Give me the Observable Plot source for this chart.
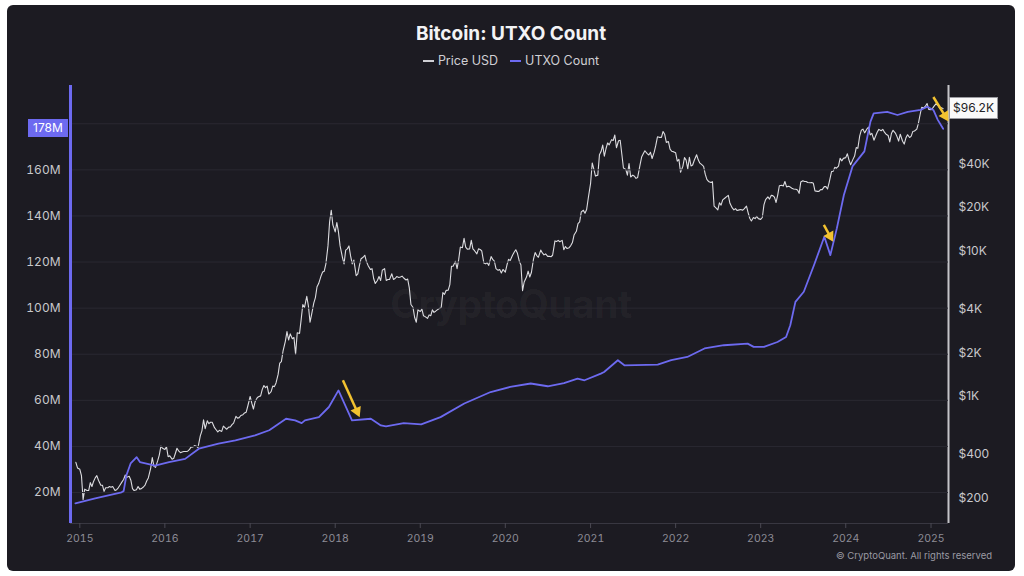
<!DOCTYPE html>
<html><head><meta charset="utf-8">
<script src="https://cdn.jsdelivr.net/npm/d3@7"></script>
<script src="https://cdn.jsdelivr.net/npm/@observablehq/plot@0.6"></script>
<style>
html,body{margin:0;padding:0;background:#ffffff;width:1024px;height:576px;overflow:hidden;font-family:Inter,"Noto Sans",sans-serif;}
#card{position:absolute;left:7px;top:5px;width:1008px;height:566px;background:#1c1b22;border-radius:6px;}
#title{position:absolute;left:0;width:1022px;top:22px;text-align:center;color:#f3f3f5;font-weight:700;font-size:19px;line-height:24px;}
#legend{position:absolute;left:0;width:1022px;top:53px;text-align:center;color:#cfcfd4;font-size:12.5px;line-height:16px;}
#legend .sw{display:inline-block;width:11px;height:2px;vertical-align:middle;margin-right:4px;position:relative;top:-1px;}
#legend .item{margin:0 6px;}
#watermark{position:absolute;left:0;width:1022px;top:280px;text-align:center;font-size:39px;font-weight:700;color:rgba(255,255,255,0.045);letter-spacing:-0.5px;}
.layer{position:absolute;left:0;top:0;}
#footer{position:absolute;right:32px;top:550px;font-size:9.5px;color:#9a9aa2;}
.vlabel{position:absolute;font-size:12px;line-height:18px;height:18px;text-align:center;box-sizing:border-box;}
</style></head><body>
<div id="card"></div>
<div id="watermark">CryptoQuant</div>
<div id="title">Bitcoin: UTXO Count</div>
<div id="legend"><span class="item"><span class="sw" style="background:#cfcfd4"></span>Price USD</span><span class="item"><span class="sw" style="background:#6d6af0"></span>UTXO Count</span></div>
<div id="price" class="layer"></div>
<div id="utxo" class="layer"></div>
<div id="footer">© CryptoQuant. All rights reserved</div>
<script>
// ---------- Price USD (weekly samples: days 1, 8, 15, 22 of each month) ----------
const price2014 = [352, 322];
const price2015 = [315,285,195,230, 225,225,255,240, 260,275,285,265, 245,245,222,235, 235,240,237,240, 225,228,235,245, 258,268,288,278, 282,265,232,225, 228,240,230,232, 238,245,262,275, 320,380,330,325, 360,395,455,440];
const price2016 = [432,450,385,390, 370,375,405,440, 420,410,415,418, 418,420,430,448, 450,460,455,445, 535,580,690,600, 680,650,665,665, 610,590,570,585, 575,625,610,595, 615,617,640,655, 730,710,715,740, 750,770,780,860];
const price2017 = [1000,900,820,920, 985,1000,1010,1120, 1190,1150,1180,1040, 1080,1180,1170,1240, 1420,1700,1740,2050, 2400,2800,2450,2700, 2500,2550,1950,2750, 2720,3400,4300,4100, 4900,4200,3250,3700, 4400,4800,5700,6000, 6750,7200,7300,8200, 10900,16000,19200,15200];
const price2018 = [13600,15800,13600,10900, 9100,8200,10200,10400, 10900,9300,8200,8700, 6800,7000,8000,8900, 9100,9400,8500,8000, 7500,7600,6500,6000, 6300,6700,6300,7400, 7600,6300,6400,6400, 7000,6400,6500,6700, 6600,6650,6750,6550, 6350,6450,5600,4300, 4100,3500,3250,3950];
const price2019 = [3850,4000,3600,3550, 3450,3650,3600,3950, 3800,3870,3950,4020, 4100,5200,5050,5380, 5400,5900,7900,7900, 8550,7600,8800,10700, 10600,12300,10700,10350, 10400,11900,10400,10100, 9600,10400,10300,10050, 8300,8200,8350,8000, 9200,8800,8550,7600, 7400,7500,7100,7500];
const price2020 = [7200,8050,8800,8650, 9400,9850,10250,9700, 8550,8050,5350,6150, 6650,7300,6650,7150, 8850,9800,9350,9100, 10200,9750,9450,9600, 9230,9250,9180,9400, 11800,11700,11900,11650, 11900,10250,10800,10450, 10600,10950,11500,12950, 13750,15500,15950,18700, 19200,18300,19400,23200];
const price2021 = [29400,40600,36800,33000, 33500,46200,48700,54000, 45200,50900,55800,54100, 58800,58000,63300,51700, 57800,58200,46800,37500, 36700,33500,40200,32500, 33500,32900,31800,32300, 39200,44600,47000,49300, 47100,46100,48100,43600, 48200,53900,61500,61000, 61000,66900,64000,56300, 57000,50600,48900,48600];
const price2022 = [47700,41800,43000,35100, 38500,44200,42500,37000, 44400,38700,39300,42400, 46300,42700,40500,39700, 38500,34000,31300,30300, 29800,30200,20500,20000, 19300,21600,20800,22600, 23300,23800,24300,21400, 19900,19300,19700,19100, 19300,19400,19200,19600, 20500,18500,16900,16200, 17100,16800,17400,16800];
const price2023 = [16600,17100,20900,22700, 23700,22900,24300,24200, 23600,21700,24400,28300, 28500,28200,30300,27800, 28100,27700,27200,26900, 26800,26500,25100,30000, 30600,30300,30300,29800, 29700,29800,29400,26100, 25900,25900,26600,26600, 27900,27900,26900,29900, 35400,35600,37900,37400, 38700,43800,42000,43700];
const price2024 = [44200,47000,42500,39500, 43000,45300,51800,51300, 62400,68300,69500,65500, 69700,71600,63400,64900, 58300,62000,66200,69200, 67700,69300,66200,64100, 62800,56700,64800,68200, 65300,61700,57500,64100, 57300,54800,60300,63600, 60800,62200,67000,67400, 69500,76500,87300,98300, 97200,100000,104400,95100];
const price2025 = [94400,96900,100500,103600, 100600,96500,97600,96200];
const priceYears = [[2014, price2014, 46],[2015, price2015, 0],[2016, price2016, 0],[2017, price2017, 0],[2018, price2018, 0],[2019, price2019, 0],[2020, price2020, 0],[2021, price2021, 0],[2022, price2022, 0],[2023, price2023, 0],[2024, price2024, 0],[2025, price2025, 0]];

// ---------- UTXO count (millions) ----------
const utxoDates = ["2014-12-13","2015-03-08","2015-06-29","2015-07-08","2015-07-20","2015-08-07","2015-09-02","2015-09-16","2015-11-20","2016-01-19","2016-03-28","2016-05-26","2016-08-18","2016-10-30","2017-01-22","2017-03-24","2017-06-04","2017-07-13","2017-08-10","2017-08-24","2017-10-23","2017-12-05","2018-01-15","2018-03-14","2018-06-03","2018-07-16","2018-08-07","2018-10-22","2019-01-05","2019-03-29","2019-07-09","2019-10-30","2020-01-22","2020-04-19","2020-07-01","2020-09-09","2020-11-06","2020-12-06","2021-02-14","2021-02-28","2021-04-28","2021-05-26","2021-10-16","2021-12-13","2022-02-20","2022-05-05","2022-07-27","2022-11-06","2022-12-02","2023-01-15","2023-03-14","2023-04-20","2023-05-08","2023-05-30","2023-07-05","2023-08-18","2023-10-01","2023-10-27","2023-11-24","2023-12-24","2024-01-30","2024-03-21","2024-04-16","2024-04-30","2024-06-27","2024-08-10","2024-09-23","2024-11-17","2024-12-16","2025-01-11","2025-01-30","2025-02-22"];
const utxoValues = [15.3,17.5,20.1,20.6,27.5,32.6,35.3,33.2,31.7,33.2,34.6,39.0,41.2,42.6,44.8,47.0,52.0,51.3,50.1,51.3,52.7,57.1,64.3,51.3,52.0,49.1,48.7,50.1,49.6,52.7,58.6,63.6,65.8,67.3,66.1,67.5,69.4,68.7,71.6,72.3,77.4,75.2,75.5,77.4,78.8,82.5,83.9,84.6,83.2,83.2,85.3,87.5,92.6,102.7,107.1,118.7,131.0,123.0,134.7,149.1,161.5,168.0,180.9,184.5,185.2,183.8,185.2,186.0,187.4,186.0,181.7,177.8];

// ---------- axes ----------
const yearTicks = [2015,2016,2017,2018,2019,2020,2021,2022,2023,2024,2025];
const utxoTicks = [20,40,60,80,100,120,140,160];
const utxoGrid = [20,40,60,80,100,120,140,160,180];
const priceTicks = [200,400,1000,2000,4000,10000,20000,40000];

// ---------- annotations (arrow tail -> tip, in date / UTXO millions) ----------
const arrowFrom = [["2018-02-03",68.7],["2023-09-29",136.1],["2025-01-11",191.6]];
const arrowTo   = [["2018-04-16",52.7],["2023-11-08",128.8],["2025-03-17",181.0]];

// ---------- build ----------
const W = 1024, H = 576, ML = 70, MR = 76, MT = 85, MB = 53;
const X0 = new Date("2014-11-22"), X1 = new Date("2025-03-17");
const UDOM = [6.55, 196.6], PDOM = [133.4, 138800];
const PURPLE = "#6d6af0", GOLD = "#f2c230";

const priceData = priceYears.flatMap(([yr, vals, off]) => vals.map((v, k) => {
  const i = k + off;
  return {date: new Date(Date.UTC(yr, Math.floor(i / 4), 1 + 7 * (i % 4))), price: v};
}));
const utxoData = utxoDates.map((d, i) => ({date: new Date(d), utxo: utxoValues[i]}));
const fmtPrice = d => d >= 1000 ? `$${d / 1000}K` : `$${d}`;

const common = {width: W, height: H, marginLeft: ML, marginRight: MR, marginTop: MT, marginBottom: MB,
  style: {background: "transparent", overflow: "visible", fontFamily: "Inter, 'Noto Sans', sans-serif"}};

const chartP = Plot.plot({...common,
  x: {type: "utc", domain: [X0, X1], axis: null},
  y: {type: "log", domain: PDOM, label: null, axis: null},
  marks: [
    Plot.lineY(priceData, {x: "date", y: "price", stroke: "#dcdce0", strokeWidth: 1.1}),
    Plot.text(priceTicks, {y: d => d, text: fmtPrice, frameAnchor: "right", textAnchor: "start", dx: 10, fill: "#c8c8cc", fontSize: 12}),
    Plot.ruleX([X1], {stroke: "#c4c4c8", strokeWidth: 2})
  ]
});
document.getElementById("price").appendChild(chartP);

// arrow geometry through scales
const sx = Plot.scale({x: {type: "utc", domain: [X0, X1], range: [ML, W - MR]}});
const sy = Plot.scale({y: {type: "linear", domain: UDOM, range: [H - MB, MT]}});
const R = 4.2;
const arrows = arrowFrom.map((f, i) => {
  const t = arrowTo[i];
  const x1 = sx.apply(new Date(f[0])), y1 = sy.apply(f[1]);
  const x2 = sx.apply(new Date(t[0])), y2 = sy.apply(t[1]);
  const len = Math.hypot(x2 - x1, y2 - y1), ux = (x2 - x1) / len, uy = (y2 - y1) / len;
  const cx = x2 - ux * 1.55 * R, cy = y2 - uy * 1.55 * R;
  return {xa: new Date(f[0]), ya: f[1], xc: sx.invert(cx), yc: sy.invert(cy),
          rot: Math.atan2(ux, -uy) * 180 / Math.PI};
});

const chartU = Plot.plot({...common,
  x: {type: "utc", domain: [X0, X1], label: null},
  y: {type: "linear", domain: UDOM, label: null},
  marks: [
    Plot.ruleY(utxoGrid, {stroke: "#2a2932", strokeWidth: 1}),
    Plot.ruleY([UDOM[0]], {stroke: "#383741", strokeWidth: 1}),
    Plot.axisX({ticks: yearTicks.map(y => new Date(Date.UTC(y, 0, 1))), tickFormat: d3.utcFormat("%Y"), tickSize: 5, tickPadding: 6, stroke: "#4a4953", fill: "#8d8c96", fontSize: 10.5, label: null}),
    Plot.axisY({anchor: "left", ticks: utxoTicks, tickFormat: d => d + "M", tickSize: 0, tickPadding: 10, fill: "#c8c8cc", fontSize: 12, label: null}),
    Plot.ruleX([X0], {stroke: PURPLE, strokeWidth: 3}),
    Plot.lineY(utxoData, {x: "date", y: "utxo", stroke: PURPLE, strokeWidth: 1.8}),
    Plot.link(arrows, {x1: "xa", y1: "ya", x2: "xc", y2: "yc", stroke: GOLD, strokeWidth: 2.5}),
    Plot.dot(arrows, {x: "xc", y: "yc", symbol: "triangle", r: R, fill: GOLD, stroke: "none", rotate: "rot"})
  ]
});
document.getElementById("utxo").appendChild(chartU);

// current value labels placed through the scales
const lastU = utxoValues[utxoValues.length - 1];
const lastP = price2025[price2025.length - 1];
const yU = chartU.scale("y").apply(lastU);
const yP = chartP.scale("y").apply(lastP);
const lu = document.createElement("div");
lu.className = "vlabel";
lu.textContent = Math.round(lastU) + "M";
Object.assign(lu.style, {left: "28px", width: "40px", top: (yU - 9) + "px", background: PURPLE, color: "#ffffff"});
document.body.appendChild(lu);
const lp = document.createElement("div");
lp.className = "vlabel";
lp.textContent = "$" + (lastP / 1000).toFixed(1) + "K";
Object.assign(lp.style, {left: (W - MR + 1) + "px", width: "49px", height: "22px", lineHeight: "20px", top: (yP - 11) + "px", background: "#fafafa", color: "#222226", border: "1px solid #9a9aa0"});
document.body.appendChild(lp);
</script>
</body></html>
